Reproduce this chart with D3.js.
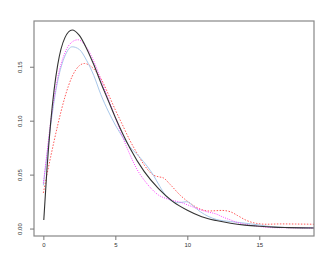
<!DOCTYPE html>
<html>
<head>
<meta charset="utf-8">
<script src="https://cdn.jsdelivr.net/npm/d3@7"></script>
<style>
  body { margin: 0; background: #fff; }
  text { font-family: "Liberation Sans", Arial, sans-serif; font-size: 6px; fill: #333; }
</style>
</head>
<body>
<div id="chart"></div>
<script>
var svgWidth = 332;
var svgHeight = 263;

var margin = { top: 21, right: 18, bottom: 27, left: 34 };
var width = svgWidth - margin.left - margin.right;
var height = svgHeight - margin.top - margin.bottom;

var xTicks = [0, 5, 10, 15];
var yTicks = [0, 0.05, 0.10, 0.15];
var yTickLabels = ["0.00", "0.05", "0.10", "0.15"];

// true density (black)
var trueX = [0.03, 0.25, 0.5, 0.75, 1, 1.5, 2, 2.5, 3, 3.5, 4, 4.5, 5, 6, 7, 8, 9, 10, 11, 12, 13, 14, 15, 16, 17, 18, 18.8];
var trueY = [0.008, 0.055, 0.097, 0.129, 0.152, 0.177, 0.184, 0.179, 0.167, 0.152, 0.135, 0.119, 0.103, 0.075, 0.053, 0.037, 0.025, 0.017, 0.011, 0.0074, 0.0049, 0.0032, 0.0021, 0.0013, 0.0009, 0.0006, 0.0005];

// light blue estimate
var blueX = [0, 0.25, 0.5, 1, 1.5, 2, 2.5, 3, 3.5, 4, 4.5, 5, 5.5, 6, 6.7, 7.2, 7.64, 8.1, 8.8, 9.4, 9.96, 10.4, 10.9, 11.5, 12, 13, 14, 15, 16, 17, 18, 18.8];
var blueY = [0.04, 0.068, 0.095, 0.137, 0.16, 0.1685, 0.166, 0.156, 0.142, 0.124, 0.109, 0.096, 0.085, 0.076, 0.066, 0.058, 0.0496, 0.0388, 0.0264, 0.024, 0.0249, 0.021, 0.0156, 0.011, 0.0085, 0.0065, 0.005, 0.0033, 0.0015, 0.001, 0.0008, 0.0007];

// magenta estimate
var magX = [0, 0.25, 0.5, 1, 1.5, 2, 2.4, 3, 3.6, 4, 5, 5.5, 6, 6.5, 7, 7.5, 8, 8.5, 9, 9.5, 10, 10.65, 11.35, 12, 12.5, 13, 13.5, 14, 14.8, 15.5, 16, 17, 18, 18.8];
var magY = [0.042, 0.07, 0.098, 0.14, 0.163, 0.173, 0.175, 0.168, 0.152, 0.138, 0.103, 0.085, 0.069, 0.055, 0.045, 0.037, 0.031, 0.028, 0.026, 0.0245, 0.022, 0.0187, 0.0156, 0.0135, 0.0105, 0.008, 0.0055, 0.004, 0.0023, 0.0012, 0.0008, 0.0007, 0.0005, 0.0005];

// red estimate
var redX = [0, 0.25, 0.5, 1, 1.5, 2, 2.5, 2.85, 3.5, 4, 4.5, 5, 5.5, 6, 6.5, 7, 7.64, 8.0, 8.33, 8.8, 9.5, 10.2, 10.9, 11.5, 12.4, 13, 13.5, 14.1, 14.8, 15.5, 16.5, 17.5, 18.8];
var redY = [0.033, 0.05, 0.066, 0.096, 0.122, 0.141, 0.151, 0.153, 0.148, 0.139, 0.125, 0.11, 0.096, 0.082, 0.07, 0.059, 0.0496, 0.048, 0.047, 0.041, 0.031, 0.0234, 0.018, 0.0163, 0.0168, 0.0155, 0.012, 0.0076, 0.0048, 0.004, 0.0043, 0.0042, 0.004];

var svg = d3.select("#chart")
  .append("svg")
  .attr("width", svgWidth)
  .attr("height", svgHeight);

var chartGroup = svg.append("g")
  .attr("transform", `translate(${margin.left}, ${margin.top})`);

var xScale = d3.scaleLinear().domain([-0.65, 18.8]).range([0, width]);
var yScale = d3.scaleLinear().domain([-0.0069, 0.1924]).range([height, 0]);

// curves
var line = d3.line()
  .x(d => xScale(d[0]))
  .y(d => yScale(d[1]))
  .curve(d3.curveMonotoneX);

var series = [
  { x: redX, y: redY, color: "#ff5a5a", width: 1, dash: "1.5,1.5" },
  { x: blueX, y: blueY, color: "#a9c8ea", width: 1, dash: null },
  { x: magX, y: magY, color: "#ff40ff", width: 1, dash: "1,1.3" },
  { x: trueX, y: trueY, color: "#333", width: 1.1, dash: null }
];

chartGroup.append("g").selectAll("path")
  .data(series)
  .enter()
  .append("path")
  .attr("d", s => line(d3.zip(s.x, s.y)))
  .attr("fill", "none")
  .attr("stroke", s => s.color)
  .attr("stroke-width", s => s.width)
  .attr("stroke-dasharray", s => s.dash);

// box
chartGroup.append("rect")
  .attr("x", 0)
  .attr("y", 0)
  .attr("width", width)
  .attr("height", height)
  .attr("fill", "none")
  .attr("stroke", "#888")
  .attr("stroke-width", 1.2);

// axes
var bottomAxis = d3.axisBottom(xScale).tickValues(xTicks).tickSize(4).tickPadding(3).tickFormat(d3.format("d"));
var leftAxis = d3.axisLeft(yScale).tickValues(yTicks).tickSize(4).tickFormat((d, i) => yTickLabels[i]);

var xAxis = chartGroup.append("g")
  .attr("transform", `translate(0, ${height})`)
  .call(bottomAxis);

var yAxis = chartGroup.append("g")
  .call(leftAxis);

[xAxis, yAxis].forEach(function(a) {
  a.select(".domain").remove();
  a.selectAll(".tick line").attr("stroke", "#777");
  a.selectAll(".tick text").attr("fill", "#333").style("font-size", "6px");
});

// rotated y labels
yAxis.selectAll(".tick text")
  .attr("x", null)
  .attr("dy", null)
  .attr("transform", "translate(-12,0) rotate(-90)")
  .attr("text-anchor", "middle");
</script>
</body>
</html>
